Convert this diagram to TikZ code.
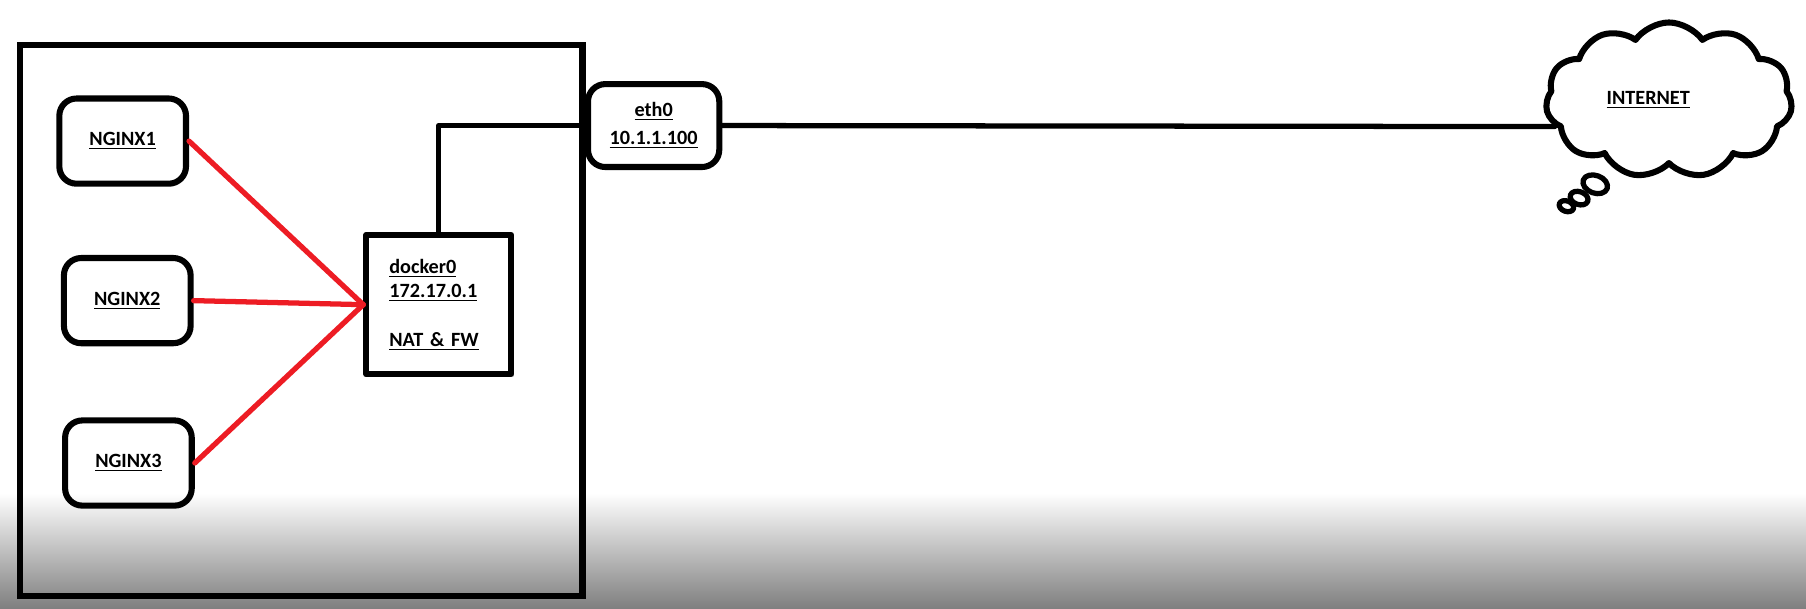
\documentclass[tikz,border=0pt]{standalone}
\usepackage{fontspec}
\setmainfont{Carlito}
\usetikzlibrary{shapes.symbols}
\definecolor{paintred}{RGB}{237,28,36}
\begin{document}
\begin{tikzpicture}[x=0.02cm,y=-0.02cm,line join=round,line cap=round,
	font=\fontsize{10}{12}\selectfont\bfseries,
	hostbox/.style={draw,line width=3pt,rounded corners=0.3cm,minimum width=2.2cm,minimum height=1.48cm},
	blacklink/.style={line width=2.6pt},
	redlink/.style={line width=2.6pt,draw=paintred}]
	\useasboundingbox (0,0) rectangle (1568,528);
	% fade at the foot of the screen
	\shade[top color=white,bottom color=black!50] (0,428) rectangle (1568,528);
	\draw[line width=3.3pt,line cap=butt,line join=miter] (17.5,39) rectangle (506,517.5);
	\node[hostbox] (nginx1) at (106.5,122.5) {\underline{NGINX1}};
	\node[hostbox] (nginx2) at (110.5,261) {\underline{NGINX2}};
	\node[hostbox] (nginx3) at (111.5,402) {\underline{NGINX3}};
	\node[draw,line width=3pt,minimum width=2.52cm,minimum height=2.42cm,text width=1.72cm,align=left,inner sep=0pt] (docker0) at (381,264.5)
		{\underline{docker0}\\\underline{172.17.0.1}\\[\baselineskip]\underline{NAT \& FW}};
	\node[hostbox,minimum width=2.28cm,minimum height=1.44cm,align=center] (eth0) at (567.5,109) {\underline{eth0}\\[2pt]\underline{10.1.1.100}};
	% thought bubbles
	\foreach \bx/\by/\br in {1385/160/0.22,1371/172/0.16,1360/179/0.13}
		\draw[line width=2.6pt,fill=white,rotate around={-20:(\bx,\by)}] (\bx,\by) ellipse [x radius=\br cm,y radius=0.7*\br cm];
	\node[cloud,draw,fill=white,line width=3pt,cloud puffs=11,cloud puff arc=110,aspect=1.6,minimum width=4.28cm,minimum height=2.7cm] (internet) at (1449,87)
		{\underline{INTERNET}\hspace*{0.72cm}};
	\foreach \n in {nginx1,nginx2,nginx3}
		\draw[redlink] (\n.east) -- (docker0.west);
	\draw[blacklink] (docker0.north) |- (eth0.west);
	\draw[blacklink] (eth0.east) -- (internet.193);
\end{tikzpicture}
\end{document}
